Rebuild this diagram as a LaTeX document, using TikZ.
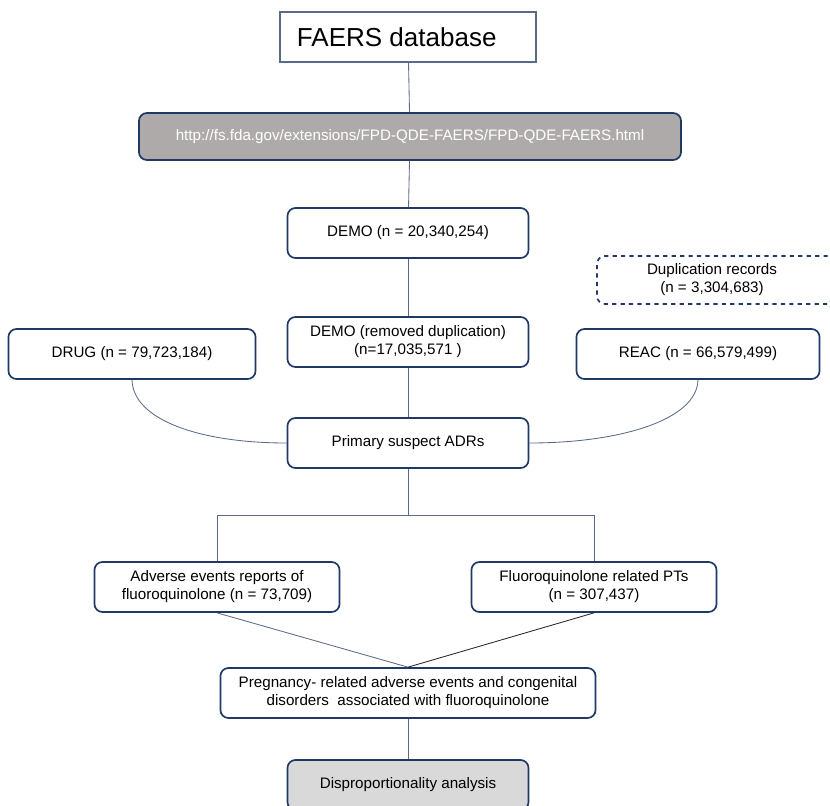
\documentclass[tikz,border=0pt]{standalone}
\usepackage{fontspec}
\setmainfont{Liberation Sans}
\usetikzlibrary{positioning}
\definecolor{navy}{HTML}{1F3864}
\definecolor{linkgray}{HTML}{5A6A8A}
\definecolor{urlgray}{HTML}{AEAAAA}
\definecolor{lightgray}{HTML}{D9D9D9}
\tikzset{
	box/.style={draw=navy, line width=1.2pt, rounded corners=0.2cm, fill=white, align=center,
		minimum width=6.025cm, minimum height=1.25cm, inner sep=2pt, font=\fontsize{10.8}{12.8}\selectfont},
	link/.style={draw=linkgray, line width=0.6pt}
}
\begin{document}
\begin{tikzpicture}[x=0.025cm, y=-0.025cm]
	\useasboundingbox (0,0) rectangle (830,805);
	\node[draw=linkgray, line width=0.8pt, minimum width=6.4cm, minimum height=1.25cm] (faers) at (408,37) {};
	\node[anchor=west, font=\fontsize{18.5}{20}\selectfont] (faerstext) at (292,37) {FAERS database};
	\node[box, fill=urlgray, text=white, minimum width=13.55cm, minimum height=1.175cm] (url) at (410,136.5)
		{http://fs.fda.gov/extensions/FPD-QDE-FAERS/FPD-QDE-FAERS.html};
	\node[box] (demo) at (408,233) {DEMO (n = 20,340,254)};
	\node[box, dashed, minimum width=6.6cm, minimum height=1.2cm, fill=none] (dup) at (729,280) {};
	\node[align=center, font=\fontsize{10.8}{12.8}\selectfont] (duptext) at (712,280) {Duplication records\\(n = 3,304,683)};
	\node[box] (demorem) at (408,342) {DEMO (removed duplication)\\(n=17,035,571 )};
	\node[box, minimum width=6.175cm] (drug) at (132,354) {DRUG (n = 79,723,184)};
	\node[box, minimum width=6.075cm] (reac) at (698,354) {REAC (n = 66,579,499)};
	\node[box] (psa) at (408,443) {Primary suspect ADRs};
	\node[box, minimum width=6.125cm] (aer) at (217,587) {Adverse events reports of\\fluoroquinolone (n = 73,709)};
	\node[box, minimum width=6.125cm] (fpt) at (594,587) {Fluoroquinolone related PTs\\(n = 307,437)};
	\node[box, minimum width=9.375cm] (preg) at (408,693) {Pregnancy- related adverse events and congenital\\disorders\ \ associated with fluoroquinolone};
	\node[box, fill=lightgray] (disp) at (408,785) {Disproportionality analysis};
	\coordinate (split) at (408,515);

	\draw[link] (faers) -- (url);
	\draw[link] (url) -- (demo);
	\draw[link] (demo) -- (demorem);
	\draw[link] (demorem) -- (psa);
	\draw[link] (psa) -- (split);
	\draw[link] (split -| aer) -- (split -| fpt);
	\draw[link] (split -| aer) -- (aer);
	\draw[link] (split -| fpt) -- (fpt);
	\draw[link] (drug.south) .. controls (133,420) and (200,443) .. (psa.west);
	\draw[link] (reac.south) .. controls (697,420) and (620,443) .. (psa.east);
	\draw[link] (aer.south) -- (preg.north);
	\draw[draw=black!85, line width=0.6pt] (fpt.south) -- (preg.north);
	\draw[link] (preg) -- (disp);
\end{tikzpicture}
\end{document}
